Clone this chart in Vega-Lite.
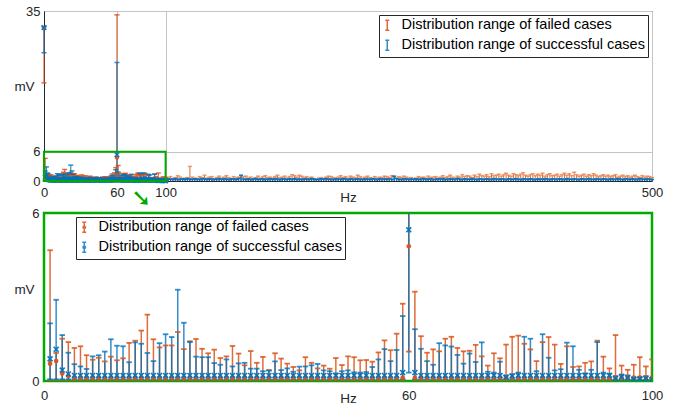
{
"$schema":"https://vega.github.io/schema/vega-lite/v6.json",
"padding":{"left":12,"top":4,"right":5,"bottom":2},
"config":{"font":"Liberation Sans","axis":{"labelFont":"Liberation Sans","labelFontSize":13,"labelColor":"#262626","titleFont":"Liberation Sans","titleFontSize":13.5,"titleFontWeight":"normal","titleColor":"#262626","ticks":false,"labelFlush":false,"domainColor":"#262626"},"legend":{"labelFont":"Liberation Sans","labelFontSize":14.5,"labelColor":"#000000","labelLimit":400,"fillColor":"white","strokeColor":"#262626","padding":3,"rowPadding":3,"labelOffset":7,"symbolSize":100,"symbolStrokeWidth":1.5,"symbolOffset":-2,"direction":"vertical","titlePadding":0}},
"datasets":{
"main":[
{"f":0,"s":"F","lo":20.2,"hi":31.8,"m":31.5},{"f":1,"s":"F","lo":0.03,"hi":4.67,"m":0.62},{"f":2,"s":"F","lo":0.03,"hi":1.0,"m":0.71},{"f":3,"s":"F","lo":0.03,"hi":1.51,"m":0.27},{"f":4,"s":"F","lo":0.03,"hi":1.39,"m":0.18},
{"f":5,"s":"F","lo":0.03,"hi":1.18,"m":0.12},{"f":6,"s":"F","lo":0.03,"hi":1.24,"m":0.12},{"f":7,"s":"F","lo":0.03,"hi":0.92,"m":0.12},{"f":8,"s":"F","lo":0.03,"hi":0.76,"m":0.12},{"f":9,"s":"F","lo":0.03,"hi":0.83,"m":0.12},
{"f":10,"s":"F","lo":0.03,"hi":0.70,"m":0.12},{"f":11,"s":"F","lo":0.03,"hi":0.87,"m":0.12},{"f":12,"s":"F","lo":0.03,"hi":0.74,"m":0.12},{"f":13,"s":"F","lo":0.03,"hi":0.81,"m":0.12},{"f":14,"s":"F","lo":0.03,"hi":1.36,"m":0.12},
{"f":15,"s":"F","lo":0.03,"hi":1.44,"m":0.12},{"f":16,"s":"F","lo":0.03,"hi":1.80,"m":0.12},{"f":17,"s":"F","lo":0.03,"hi":2.37,"m":0.12},{"f":18,"s":"F","lo":0.03,"hi":1.49,"m":0.12},{"f":19,"s":"F","lo":0.03,"hi":1.20,"m":0.12},
{"f":20,"s":"F","lo":0.03,"hi":1.27,"m":0.12},{"f":21,"s":"F","lo":0.03,"hi":1.27,"m":0.12},{"f":22,"s":"F","lo":0.03,"hi":1.75,"m":0.12},{"f":23,"s":"F","lo":0.03,"hi":1.14,"m":0.12},{"f":24,"s":"F","lo":0.03,"hi":1.42,"m":0.12},
{"f":25,"s":"F","lo":0.03,"hi":1.50,"m":0.12},{"f":26,"s":"F","lo":0.03,"hi":1.15,"m":0.12},{"f":27,"s":"F","lo":0.03,"hi":0.99,"m":0.12},{"f":28,"s":"F","lo":0.03,"hi":1.12,"m":0.12},{"f":29,"s":"F","lo":0.03,"hi":0.82,"m":0.12},
{"f":30,"s":"F","lo":0.03,"hi":0.88,"m":0.12},{"f":31,"s":"F","lo":0.03,"hi":1.25,"m":0.12},{"f":32,"s":"F","lo":0.03,"hi":0.98,"m":0.12},{"f":33,"s":"F","lo":0.03,"hi":0.56,"m":0.12},{"f":34,"s":"F","lo":0.03,"hi":1.07,"m":0.12},
{"f":35,"s":"F","lo":0.03,"hi":0.65,"m":0.12},{"f":36,"s":"F","lo":0.03,"hi":0.86,"m":0.12},{"f":37,"s":"F","lo":0.03,"hi":0.39,"m":0.12},{"f":38,"s":"F","lo":0.03,"hi":0.99,"m":0.12},{"f":39,"s":"F","lo":0.03,"hi":0.80,"m":0.12},
{"f":40,"s":"F","lo":0.03,"hi":0.62,"m":0.12},{"f":41,"s":"F","lo":0.03,"hi":0.50,"m":0.12},{"f":42,"s":"F","lo":0.03,"hi":0.38,"m":0.12},{"f":43,"s":"F","lo":0.03,"hi":0.85,"m":0.12},{"f":44,"s":"F","lo":0.03,"hi":0.65,"m":0.12},
{"f":45,"s":"F","lo":0.03,"hi":0.45,"m":0.12},{"f":46,"s":"F","lo":0.03,"hi":0.55,"m":0.12},{"f":47,"s":"F","lo":0.03,"hi":0.44,"m":0.12},{"f":48,"s":"F","lo":0.03,"hi":0.82,"m":0.12},{"f":49,"s":"F","lo":0.03,"hi":0.57,"m":0.12},
{"f":50,"s":"F","lo":0.03,"hi":0.88,"m":0.12},{"f":51,"s":"F","lo":0.03,"hi":0.85,"m":0.12},{"f":52,"s":"F","lo":0.03,"hi":0.74,"m":0.12},{"f":53,"s":"F","lo":0.03,"hi":0.75,"m":0.12},{"f":54,"s":"F","lo":0.03,"hi":0.69,"m":0.12},
{"f":55,"s":"F","lo":0.03,"hi":1.02,"m":0.12},{"f":56,"s":"F","lo":0.03,"hi":1.45,"m":0.12},{"f":57,"s":"F","lo":0.03,"hi":1.10,"m":0.12},{"f":58,"s":"F","lo":0.03,"hi":1.69,"m":0.12},{"f":59,"s":"F","lo":0.03,"hi":2.76,"m":0.12},
{"f":60,"s":"F","lo":1.05,"hi":34.2,"m":4.81},{"f":61,"s":"F","lo":0.03,"hi":3.19,"m":0.12},{"f":62,"s":"F","lo":0.03,"hi":1.60,"m":0.12},{"f":63,"s":"F","lo":0.03,"hi":1.01,"m":0.12},{"f":64,"s":"F","lo":0.03,"hi":1.13,"m":0.12},
{"f":65,"s":"F","lo":0.03,"hi":1.06,"m":0.12},{"f":66,"s":"F","lo":0.03,"hi":1.51,"m":0.12},{"f":67,"s":"F","lo":0.03,"hi":1.58,"m":0.12},{"f":68,"s":"F","lo":0.03,"hi":1.18,"m":0.12},{"f":69,"s":"F","lo":0.03,"hi":1.06,"m":0.12},
{"f":70,"s":"F","lo":0.03,"hi":1.08,"m":0.12},{"f":71,"s":"F","lo":0.03,"hi":1.29,"m":0.12},{"f":72,"s":"F","lo":0.03,"hi":0.88,"m":0.12},{"f":73,"s":"F","lo":0.03,"hi":0.55,"m":0.12},{"f":74,"s":"F","lo":0.03,"hi":0.99,"m":0.12},
{"f":75,"s":"F","lo":0.03,"hi":0.81,"m":0.12},{"f":76,"s":"F","lo":0.03,"hi":1.30,"m":0.12},{"f":77,"s":"F","lo":0.03,"hi":1.58,"m":0.12},{"f":78,"s":"F","lo":0.03,"hi":1.62,"m":0.12},{"f":79,"s":"F","lo":0.03,"hi":1.33,"m":0.12},
{"f":80,"s":"F","lo":0.03,"hi":1.13,"m":0.12},{"f":81,"s":"F","lo":0.03,"hi":0.71,"m":0.12},{"f":82,"s":"F","lo":0.03,"hi":1.39,"m":0.12},{"f":83,"s":"F","lo":0.03,"hi":1.57,"m":0.12},{"f":84,"s":"F","lo":0.03,"hi":1.30,"m":0.12},
{"f":85,"s":"F","lo":0.03,"hi":0.61,"m":0.12},{"f":86,"s":"F","lo":0.03,"hi":1.24,"m":0.12},{"f":87,"s":"F","lo":0.03,"hi":0.50,"m":0.12},{"f":88,"s":"F","lo":0.03,"hi":0.52,"m":0.12},{"f":89,"s":"F","lo":0.03,"hi":0.65,"m":0.12},
{"f":90,"s":"F","lo":0.03,"hi":0.70,"m":0.12},{"f":91,"s":"F","lo":0.03,"hi":1.44,"m":0.12},{"f":92,"s":"F","lo":0.03,"hi":0.87,"m":0.12},{"f":93,"s":"F","lo":0.03,"hi":0.45,"m":0.12},{"f":94,"s":"F","lo":0.03,"hi":1.64,"m":0.12},
{"f":95,"s":"F","lo":0.03,"hi":0.55,"m":0.12},{"f":96,"s":"F","lo":0.03,"hi":0.40,"m":0.12},{"f":97,"s":"F","lo":0.03,"hi":0.58,"m":0.12},{"f":98,"s":"F","lo":0.03,"hi":0.85,"m":0.12},{"f":99,"s":"F","lo":0.03,"hi":0.52,"m":0.12},
{"f":100,"s":"F","lo":0.03,"hi":0.77,"m":0.12},
{"f":0,"s":"S","lo":26.4,"hi":31.8,"m":31.6},{"f":1,"s":"S","lo":0.06,"hi":2.06,"m":0.79},{"f":2,"s":"S","lo":0.06,"hi":2.90,"m":1.13},{"f":3,"s":"S","lo":0.06,"hi":1.64,"m":0.39},{"f":4,"s":"S","lo":0.06,"hi":1.01,"m":0.25},
{"f":5,"s":"S","lo":0.06,"hi":0.60,"m":0.2},{"f":6,"s":"S","lo":0.06,"hi":0.52,"m":0.2},{"f":7,"s":"S","lo":0.06,"hi":0.43,"m":0.2},{"f":8,"s":"S","lo":0.06,"hi":0.88,"m":0.2},{"f":9,"s":"S","lo":0.06,"hi":0.92,"m":0.2},
{"f":10,"s":"S","lo":0.06,"hi":1.05,"m":0.2},{"f":11,"s":"S","lo":0.06,"hi":1.49,"m":0.2},{"f":12,"s":"S","lo":0.06,"hi":1.26,"m":0.2},{"f":13,"s":"S","lo":0.06,"hi":1.24,"m":0.2},{"f":14,"s":"S","lo":0.06,"hi":0.67,"m":0.2},
{"f":15,"s":"S","lo":0.06,"hi":1.38,"m":0.2},{"f":16,"s":"S","lo":0.06,"hi":1.33,"m":0.2},{"f":17,"s":"S","lo":0.06,"hi":1.00,"m":0.2},{"f":18,"s":"S","lo":0.06,"hi":0.71,"m":0.2},{"f":19,"s":"S","lo":0.06,"hi":1.35,"m":0.2},
{"f":20,"s":"S","lo":0.06,"hi":1.67,"m":0.2},{"f":21,"s":"S","lo":0.06,"hi":1.57,"m":0.2},{"f":22,"s":"S","lo":0.06,"hi":3.26,"m":0.2},{"f":23,"s":"S","lo":0.06,"hi":2.08,"m":0.2},{"f":24,"s":"S","lo":0.06,"hi":1.39,"m":0.2},
{"f":25,"s":"S","lo":0.06,"hi":0.87,"m":0.2},{"f":26,"s":"S","lo":0.06,"hi":0.85,"m":0.2},{"f":27,"s":"S","lo":0.06,"hi":0.85,"m":0.2},{"f":28,"s":"S","lo":0.06,"hi":0.64,"m":0.2},{"f":29,"s":"S","lo":0.06,"hi":0.58,"m":0.2},
{"f":30,"s":"S","lo":0.06,"hi":0.77,"m":0.2},{"f":31,"s":"S","lo":0.06,"hi":0.52,"m":0.2},{"f":32,"s":"S","lo":0.06,"hi":0.63,"m":0.2},{"f":33,"s":"S","lo":0.06,"hi":0.65,"m":0.2},{"f":34,"s":"S","lo":0.06,"hi":0.44,"m":0.2},
{"f":35,"s":"S","lo":0.06,"hi":0.44,"m":0.2},{"f":36,"s":"S","lo":0.06,"hi":0.35,"m":0.2},{"f":37,"s":"S","lo":0.06,"hi":0.37,"m":0.2},{"f":38,"s":"S","lo":0.06,"hi":0.70,"m":0.2},{"f":39,"s":"S","lo":0.06,"hi":0.39,"m":0.2},
{"f":40,"s":"S","lo":0.06,"hi":0.45,"m":0.2},{"f":41,"s":"S","lo":0.06,"hi":0.33,"m":0.2},{"f":42,"s":"S","lo":0.06,"hi":0.51,"m":0.2},{"f":43,"s":"S","lo":0.06,"hi":0.52,"m":0.2},{"f":44,"s":"S","lo":0.06,"hi":0.56,"m":0.2},
{"f":45,"s":"S","lo":0.06,"hi":0.61,"m":0.2},{"f":46,"s":"S","lo":0.06,"hi":0.38,"m":0.2},{"f":47,"s":"S","lo":0.06,"hi":0.35,"m":0.2},{"f":48,"s":"S","lo":0.06,"hi":0.27,"m":0.2},{"f":49,"s":"S","lo":0.06,"hi":0.35,"m":0.2},
{"f":50,"s":"S","lo":0.06,"hi":0.38,"m":0.2},{"f":51,"s":"S","lo":0.06,"hi":0.31,"m":0.2},{"f":52,"s":"S","lo":0.06,"hi":0.30,"m":0.2},{"f":53,"s":"S","lo":0.06,"hi":0.32,"m":0.2},{"f":54,"s":"S","lo":0.06,"hi":0.50,"m":0.2},
{"f":55,"s":"S","lo":0.06,"hi":0.77,"m":0.2},{"f":56,"s":"S","lo":0.06,"hi":1.14,"m":0.2},{"f":57,"s":"S","lo":0.06,"hi":0.71,"m":0.2},{"f":58,"s":"S","lo":0.06,"hi":1.11,"m":0.2},{"f":59,"s":"S","lo":0.06,"hi":2.32,"m":0.3},
{"f":60,"s":"S","lo":0.3,"hi":24.4,"m":5.4},{"f":61,"s":"S","lo":0.06,"hi":1.85,"m":0.3},{"f":62,"s":"S","lo":0.06,"hi":1.15,"m":0.2},{"f":63,"s":"S","lo":0.06,"hi":0.71,"m":0.2},{"f":64,"s":"S","lo":0.06,"hi":0.58,"m":0.2},
{"f":65,"s":"S","lo":0.06,"hi":1.35,"m":0.2},{"f":66,"s":"S","lo":0.06,"hi":1.27,"m":0.2},{"f":67,"s":"S","lo":0.06,"hi":1.23,"m":0.2},{"f":68,"s":"S","lo":0.06,"hi":0.93,"m":0.2},{"f":69,"s":"S","lo":0.06,"hi":0.62,"m":0.2},
{"f":70,"s":"S","lo":0.06,"hi":0.98,"m":0.2},{"f":71,"s":"S","lo":0.06,"hi":0.68,"m":0.2},{"f":72,"s":"S","lo":0.06,"hi":1.38,"m":0.2},{"f":73,"s":"S","lo":0.06,"hi":0.33,"m":0.2},{"f":74,"s":"S","lo":0.06,"hi":0.30,"m":0.2},
{"f":75,"s":"S","lo":0.06,"hi":0.69,"m":0.2},{"f":76,"s":"S","lo":0.06,"hi":0.19,"m":0.14},{"f":77,"s":"S","lo":0.06,"hi":0.24,"m":0.18},{"f":78,"s":"S","lo":0.06,"hi":0.30,"m":0.2},{"f":79,"s":"S","lo":0.06,"hi":1.58,"m":0.2},
{"f":80,"s":"S","lo":0.06,"hi":1.51,"m":0.2},{"f":81,"s":"S","lo":0.06,"hi":0.35,"m":0.2},{"f":82,"s":"S","lo":0.06,"hi":1.67,"m":0.2},{"f":83,"s":"S","lo":0.06,"hi":0.83,"m":0.2},{"f":84,"s":"S","lo":0.06,"hi":0.38,"m":0.2},
{"f":85,"s":"S","lo":0.06,"hi":0.42,"m":0.2},{"f":86,"s":"S","lo":0.06,"hi":1.37,"m":0.2},{"f":87,"s":"S","lo":0.06,"hi":1.24,"m":0.2},{"f":88,"s":"S","lo":0.06,"hi":0.40,"m":0.2},{"f":89,"s":"S","lo":0.06,"hi":0.27,"m":0.2},
{"f":90,"s":"S","lo":0.06,"hi":0.40,"m":0.2},{"f":91,"s":"S","lo":0.06,"hi":1.39,"m":0.2},{"f":92,"s":"S","lo":0.06,"hi":0.30,"m":0.2},{"f":93,"s":"S","lo":0.06,"hi":0.26,"m":0.2},{"f":94,"s":"S","lo":0.04,"hi":0.17,"m":0.1},
{"f":95,"s":"S","lo":0.04,"hi":0.23,"m":0.15},{"f":96,"s":"S","lo":0.04,"hi":0.20,"m":0.12},{"f":97,"s":"S","lo":0.03,"hi":0.11,"m":0.07},{"f":98,"s":"S","lo":0.03,"hi":0.13,"m":0.08},{"f":99,"s":"S","lo":0.03,"hi":0.17,"m":0.1},
{"f":100,"s":"S","lo":0.02,"hi":0.08,"m":0.05}
],
"tail":[
{"f":102,"o":0.6,"b":0.45},{"f":104,"o":0.9,"b":0.35},{"f":106,"o":0.5,"b":0.4},{"f":108,"o":0.7,"b":0.5},{"f":110,"o":1.1,"b":0.3},{"f":112,"o":0.8,"b":0.4},{"f":114,"o":0.5,"b":0.45},{"f":116,"o":0.6,"b":0.35},{"f":118,"o":0.7,"b":0.5},{"f":120,"o":3.0,"b":0.4},
{"f":122,"o":0.8,"b":0.35},{"f":124,"o":0.6,"b":0.45},{"f":126,"o":0.5,"b":0.4},{"f":128,"o":0.9,"b":0.3},{"f":130,"o":0.7,"b":0.5},{"f":132,"o":1.2,"b":0.4},{"f":134,"o":0.6,"b":0.35},{"f":136,"o":0.8,"b":0.45},{"f":138,"o":0.9,"b":0.4},{"f":140,"o":0.5,"b":0.3},
{"f":142,"o":0.7,"b":0.4},{"f":144,"o":1.0,"b":0.5},{"f":146,"o":0.6,"b":0.35},{"f":148,"o":0.8,"b":0.45},{"f":150,"o":1.1,"b":0.4},{"f":152,"o":0.7,"b":0.3},{"f":154,"o":0.5,"b":0.45},{"f":156,"o":0.9,"b":0.4},{"f":158,"o":0.6,"b":0.35},{"f":160,"o":0.8,"b":0.5},
{"f":162,"o":0.7,"b":1.2},{"f":164,"o":0.9,"b":0.4},{"f":166,"o":1.0,"b":0.35},{"f":168,"o":0.6,"b":0.45},{"f":170,"o":0.8,"b":0.3},{"f":172,"o":0.5,"b":0.4},{"f":174,"o":0.7,"b":0.5},{"f":176,"o":1.0,"b":0.35},{"f":178,"o":0.6,"b":0.4},{"f":180,"o":0.9,"b":0.45},
{"f":182,"o":1.1,"b":0.3},{"f":184,"o":0.7,"b":0.4},{"f":186,"o":0.8,"b":0.45},{"f":188,"o":0.6,"b":0.35},{"f":190,"o":0.9,"b":0.5},{"f":192,"o":1.2,"b":0.4},{"f":194,"o":0.7,"b":0.3},{"f":196,"o":0.8,"b":0.45},{"f":198,"o":1.0,"b":0.4},{"f":200,"o":0.6,"b":0.35},
{"f":202,"o":0.9,"b":0.45},{"f":204,"o":1.3,"b":0.4},{"f":206,"o":1.1,"b":0.5},{"f":208,"o":0.8,"b":0.35},{"f":210,"o":1.2,"b":0.4},{"f":212,"o":1.0,"b":0.3},{"f":214,"o":0.7,"b":0.45},{"f":216,"o":0.9,"b":0.4},{"f":218,"o":0.6,"b":0.35},{"f":220,"o":0.8,"b":0.5},
{"f":222,"o":0.5,"b":0.4},{"f":224,"o":0.4,"b":0.3},{"f":226,"o":0.6,"b":0.35},{"f":228,"o":0.7,"b":0.45},{"f":230,"o":0.5,"b":0.4},{"f":232,"o":0.8,"b":0.5},{"f":234,"o":1.0,"b":0.35},{"f":236,"o":0.9,"b":0.4},{"f":238,"o":0.7,"b":0.3},{"f":240,"o":0.6,"b":0.45},
{"f":242,"o":0.8,"b":0.4},{"f":244,"o":1.1,"b":0.35},{"f":246,"o":0.7,"b":0.5},{"f":248,"o":0.9,"b":0.4},{"f":250,"o":0.6,"b":0.3},{"f":252,"o":1.0,"b":0.45},{"f":254,"o":0.8,"b":0.4},{"f":256,"o":0.7,"b":0.35},{"f":258,"o":1.2,"b":0.45},{"f":260,"o":0.9,"b":0.4},
{"f":262,"o":0.6,"b":0.3},{"f":264,"o":0.8,"b":0.45},{"f":266,"o":1.0,"b":0.4},{"f":268,"o":0.7,"b":0.35},{"f":270,"o":0.5,"b":0.5},{"f":272,"o":0.9,"b":0.4},{"f":274,"o":0.6,"b":0.3},{"f":276,"o":0.8,"b":0.45},{"f":278,"o":0.7,"b":0.4},{"f":280,"o":1.0,"b":0.35},
{"f":282,"o":0.9,"b":0.45},{"f":284,"o":0.7,"b":0.4},{"f":286,"o":1.1,"b":0.35},{"f":288,"o":0.8,"b":1.0},{"f":290,"o":0.6,"b":0.5},{"f":292,"o":0.9,"b":0.4},{"f":294,"o":0.7,"b":0.3},{"f":296,"o":1.0,"b":0.45},{"f":298,"o":0.8,"b":0.4},{"f":300,"o":0.6,"b":0.35},
{"f":302,"o":0.7,"b":0.4},{"f":304,"o":0.5,"b":0.35},{"f":306,"o":0.6,"b":0.45},{"f":308,"o":0.9,"b":0.3},{"f":310,"o":0.7,"b":0.4},{"f":312,"o":0.8,"b":0.5},{"f":314,"o":0.6,"b":0.35},{"f":316,"o":1.0,"b":0.4},{"f":318,"o":0.7,"b":0.45},{"f":320,"o":0.8,"b":0.3},
{"f":322,"o":0.9,"b":0.35},{"f":324,"o":0.6,"b":0.45},{"f":326,"o":0.8,"b":0.4},{"f":328,"o":1.1,"b":0.5},{"f":330,"o":0.7,"b":0.3},{"f":332,"o":0.9,"b":0.4},{"f":334,"o":1.2,"b":0.45},{"f":336,"o":0.8,"b":0.35},{"f":338,"o":0.6,"b":0.4},{"f":340,"o":1.0,"b":0.5},
{"f":342,"o":0.8,"b":0.4},{"f":344,"o":1.3,"b":0.3},{"f":346,"o":0.9,"b":0.45},{"f":348,"o":1.1,"b":0.4},{"f":350,"o":1.0,"b":0.35},{"f":352,"o":0.7,"b":0.5},{"f":354,"o":1.2,"b":0.4},{"f":356,"o":0.9,"b":0.3},{"f":358,"o":1.4,"b":0.45},{"f":360,"o":1.1,"b":0.4},
{"f":362,"o":1.0,"b":0.35},{"f":364,"o":1.3,"b":0.45},{"f":366,"o":0.9,"b":0.4},{"f":368,"o":1.5,"b":0.3},{"f":370,"o":1.1,"b":0.5},{"f":372,"o":1.2,"b":0.4},{"f":374,"o":1.4,"b":0.35},{"f":376,"o":1.0,"b":0.45},{"f":378,"o":1.3,"b":0.4},{"f":380,"o":1.6,"b":0.3},
{"f":382,"o":1.2,"b":0.45},{"f":384,"o":1.0,"b":0.4},{"f":386,"o":1.5,"b":0.35},{"f":388,"o":1.3,"b":0.5},{"f":390,"o":1.1,"b":0.4},{"f":392,"o":1.4,"b":0.3},{"f":394,"o":1.7,"b":0.45},{"f":396,"o":1.2,"b":0.4},{"f":398,"o":1.0,"b":0.35},{"f":400,"o":1.3,"b":0.45},
{"f":402,"o":1.5,"b":0.4},{"f":404,"o":1.1,"b":0.3},{"f":406,"o":1.4,"b":0.45},{"f":408,"o":1.2,"b":0.4},{"f":410,"o":1.6,"b":0.35},{"f":412,"o":1.0,"b":0.5},{"f":414,"o":1.3,"b":0.4},{"f":416,"o":1.5,"b":0.3},{"f":418,"o":1.1,"b":0.45},{"f":420,"o":1.2,"b":0.4},
{"f":422,"o":1.4,"b":0.35},{"f":424,"o":1.0,"b":0.45},{"f":426,"o":1.3,"b":0.4},{"f":428,"o":1.6,"b":0.3},{"f":430,"o":1.2,"b":0.5},{"f":432,"o":1.5,"b":0.4},{"f":434,"o":1.1,"b":0.35},{"f":436,"o":1.8,"b":0.45},{"f":438,"o":1.3,"b":0.4},{"f":440,"o":1.0,"b":0.3},
{"f":442,"o":1.2,"b":0.45},{"f":444,"o":1.4,"b":0.4},{"f":446,"o":1.0,"b":0.35},{"f":448,"o":1.3,"b":0.5},{"f":450,"o":1.1,"b":0.4},{"f":452,"o":1.5,"b":0.3},{"f":454,"o":1.2,"b":0.45},{"f":456,"o":0.9,"b":0.4},{"f":458,"o":1.1,"b":0.35},{"f":460,"o":1.3,"b":0.45},
{"f":462,"o":1.0,"b":0.4},{"f":464,"o":1.2,"b":0.3},{"f":466,"o":0.9,"b":0.45},{"f":468,"o":1.1,"b":0.4},{"f":470,"o":1.3,"b":0.35},{"f":472,"o":0.8,"b":0.5},{"f":474,"o":1.0,"b":0.4},{"f":476,"o":1.2,"b":0.3},{"f":478,"o":0.9,"b":0.45},{"f":480,"o":1.1,"b":0.4},
{"f":482,"o":0.8,"b":0.35},{"f":484,"o":1.0,"b":0.45},{"f":486,"o":1.2,"b":0.4},{"f":488,"o":0.9,"b":0.3},{"f":490,"o":0.7,"b":0.5},{"f":492,"o":1.1,"b":0.4},{"f":494,"o":0.8,"b":0.35},{"f":496,"o":1.0,"b":0.45},{"f":498,"o":0.9,"b":0.4},{"f":500,"o":0.7,"b":0.3}
]},
"bounds":"flush",
"spacing":32,
"resolve":{"scale":{"color":"independent","x":"independent","y":"independent","opacity":"independent"},"legend":{"color":"independent"}},
"vconcat":[
{"width":608,"height":170,
"view":{"stroke":"#262626","strokeWidth":1},
"layer":[
{"data":{"name":"main"},"mark":{"type":"rule","strokeWidth":1.2},
"encoding":{
"x":{"field":"f","type":"quantitative","scale":{"domain":[0,500],"nice":false},"axis":{"values":[0,60,100,500],"grid":true,"gridColor":"#c4c4c4","title":"Hz","labelPadding":5,"titleY":16,"titleBaseline":"middle"}},
"y":{"field":"lo","type":"quantitative","scale":{"domain":[0,35],"nice":false},"axis":{"values":[0,6,35],"grid":true,"gridColor":"#c4c4c4","title":"mV","titleAngle":0,"titleX":-20,"titleY":75,"titleAlign":"center","titleBaseline":"middle","labelPadding":4}},
"y2":{"field":"hi"},
"color":{"field":"s","type":"nominal","scale":{"domain":["F","S"],"range":["#D95319","#0072BD"]},"legend":{"orient":"top-right","offset":4,"title":null,"labelExpr":"datum.label=='F'?'Distribution range of failed cases':'Distribution range of successful cases'","symbolType":"M-0.4,-1L0.4,-1M0,-1L0,1M-0.4,1L0.4,1"}},
"opacity":{"field":"s","type":"nominal","scale":{"domain":["F","S"],"range":[0.85,0.8]},"legend":null}}},
{"data":{"name":"tail"},"mark":{"type":"rule","strokeWidth":1,"color":"#D95319","opacity":0.85},"encoding":{"x":{"field":"f","type":"quantitative"},"y":{"field":"o","type":"quantitative"},"y2":{"datum":0}}},
{"data":{"name":"tail"},"mark":{"type":"tick","orient":"horizontal","size":4,"thickness":1.5,"color":"#E8875A","opacity":0.85},"encoding":{"x":{"field":"f","type":"quantitative"},"y":{"field":"o","type":"quantitative"}}},
{"data":{"name":"tail"},"mark":{"type":"rule","strokeWidth":1.4,"color":"#0072BD","opacity":0.95},"encoding":{"x":{"field":"f","type":"quantitative"},"y":{"field":"b","type":"quantitative"},"y2":{"datum":0}}},
{"data":{"name":"tail"},"mark":{"type":"tick","orient":"horizontal","size":4,"thickness":1.5,"color":"#0072BD","opacity":0.95},"encoding":{"x":{"field":"f","type":"quantitative"},"y":{"field":"b","type":"quantitative"}}},
{"data":{"name":"main"},"mark":{"type":"tick","orient":"horizontal","size":5,"thickness":1.5},
"encoding":{"x":{"field":"f","type":"quantitative"},"y":{"field":"hi","type":"quantitative"},"color":{"field":"s","type":"nominal"},"opacity":{"field":"s","type":"nominal"}}},
{"data":{"name":"main"},"mark":{"type":"tick","orient":"horizontal","size":5,"thickness":1.5},
"encoding":{"x":{"field":"f","type":"quantitative"},"y":{"field":"lo","type":"quantitative"},"color":{"field":"s","type":"nominal"},"opacity":{"field":"s","type":"nominal"}}},
{"data":{"name":"main"},"transform":[{"filter":"datum.s=='F'"}],"mark":{"type":"point","filled":true,"shape":"circle","size":18,"opacity":0.9},
"encoding":{"x":{"field":"f","type":"quantitative"},"y":{"field":"m","type":"quantitative"},"color":{"field":"s","type":"nominal"}}},
{"data":{"name":"main"},"transform":[{"filter":"datum.s=='S'"}],"mark":{"type":"point","filled":false,"shape":"M-1,-1L1,1M-1,1L1,-1","size":22,"strokeWidth":1.5,"opacity":0.9},
"encoding":{"x":{"field":"f","type":"quantitative"},"y":{"field":"m","type":"quantitative"},"color":{"field":"s","type":"nominal"}}},
{"data":{"values":[{}]},"mark":{"type":"rect","fillOpacity":0,"stroke":"#00AA00","strokeWidth":2},
"encoding":{"x":{"datum":0},"x2":{"datum":100},"y":{"datum":0},"y2":{"datum":6}}},
{"data":{"values":[{}]},"mark":{"type":"text","text":"➘","fontSize":24,"fontWeight":"bold","color":"#00AA00","font":"DejaVu Sans"},
"encoding":{"x":{"datum":80},"y":{"datum":-3.8}}}
]},
{"width":608,"height":168,
"view":{"stroke":"#00AA00","strokeWidth":2.5},
"layer":[
{"data":{"name":"main"},"mark":{"type":"rule","strokeWidth":1.5,"clip":true},
"encoding":{
"x":{"field":"f","type":"quantitative","scale":{"domain":[0,100],"nice":false},"axis":{"values":[0,60,100],"grid":false,"domain":false,"title":"Hz","labelPadding":8,"titleY":17,"titleBaseline":"middle"}},
"y":{"field":"lo","type":"quantitative","scale":{"domain":[0,6],"nice":false},"axis":{"values":[0,6],"grid":false,"domain":false,"title":"mV","titleAngle":0,"titleX":-20,"titleY":76,"titleAlign":"center","titleBaseline":"middle","labelPadding":5}},
"y2":{"field":"hi"},
"color":{"field":"s","type":"nominal","scale":{"domain":["F","S"],"range":["#D95319","#0072BD"]},"legend":{"orient":"none","legendX":32,"legendY":4,"title":null,"labelExpr":"datum.label=='F'?'Distribution range of failed cases':'Distribution range of successful cases'","symbolType":"M-0.4,-1L0.4,-1M0,-1L0,1M-0.4,1L0.4,1M0.25,0A0.25,0.25,0,1,1,-0.25,0A0.25,0.25,0,1,1,0.25,0"}},
"opacity":{"field":"s","type":"nominal","scale":{"domain":["F","S"],"range":[0.85,0.8]},"legend":null}}},
{"data":{"name":"main"},"mark":{"type":"tick","orient":"horizontal","size":5.5,"thickness":1.8,"clip":true},
"encoding":{"x":{"field":"f","type":"quantitative"},"y":{"field":"hi","type":"quantitative"},"color":{"field":"s","type":"nominal"},"opacity":{"field":"s","type":"nominal"}}},
{"data":{"name":"main"},"mark":{"type":"tick","orient":"horizontal","size":5.5,"thickness":1.8,"clip":true},
"encoding":{"x":{"field":"f","type":"quantitative"},"y":{"field":"lo","type":"quantitative"},"color":{"field":"s","type":"nominal"},"opacity":{"field":"s","type":"nominal"}}},
{"data":{"name":"main"},"transform":[{"filter":"datum.s=='F'"}],"mark":{"type":"point","filled":true,"shape":"circle","size":22,"opacity":0.95,"clip":true},
"encoding":{"x":{"field":"f","type":"quantitative"},"y":{"field":"m","type":"quantitative"},"color":{"field":"s","type":"nominal"}}},
{"data":{"name":"main"},"transform":[{"filter":"datum.s=='S'"}],"mark":{"type":"point","filled":false,"shape":"M-1,-1L1,1M-1,1L1,-1","size":24,"strokeWidth":1.6,"opacity":0.95,"clip":true},
"encoding":{"x":{"field":"f","type":"quantitative"},"y":{"field":"m","type":"quantitative"},"color":{"field":"s","type":"nominal"}}}
]}
]}
